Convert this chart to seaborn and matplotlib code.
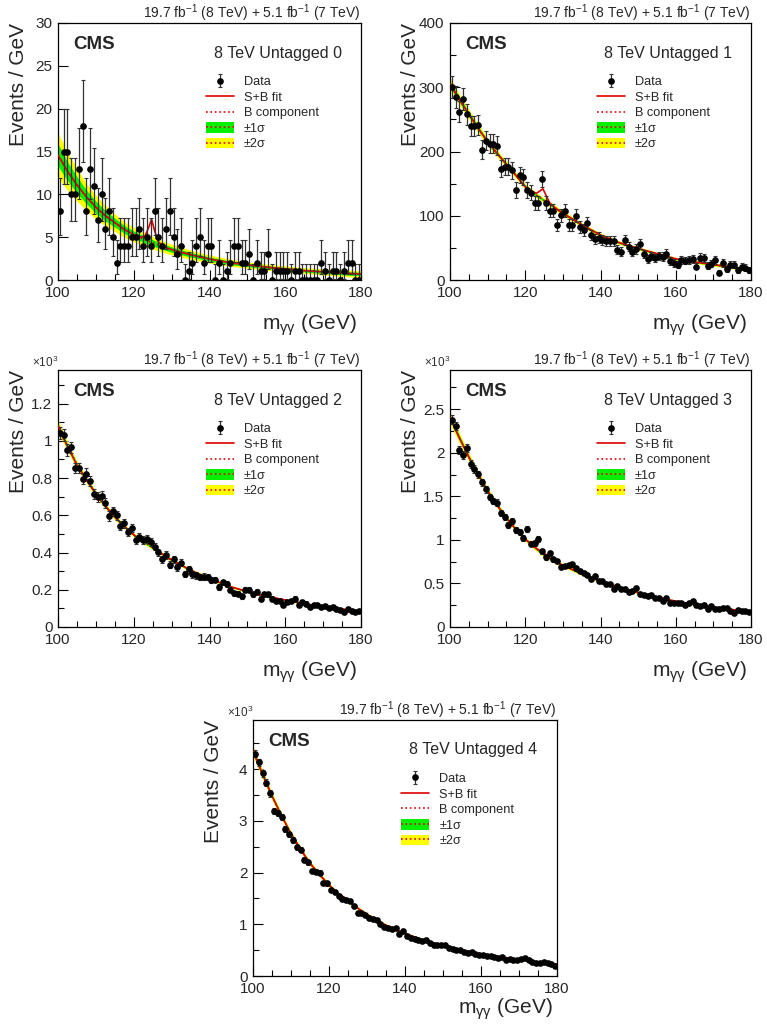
import numpy as np
import matplotlib
matplotlib.use('Agg')
import matplotlib.pyplot as plt
import seaborn as sns
from matplotlib.patches import Patch
from matplotlib.lines import Line2D
from matplotlib.ticker import MultipleLocator, FuncFormatter

sns.set_theme(style='ticks')
plt.rcParams['font.family'] = ['Liberation Sans', 'DejaVu Sans']
plt.rcParams['mathtext.fontset'] = 'custom'
plt.rcParams['mathtext.rm'] = 'Liberation Sans'
plt.rcParams['mathtext.it'] = 'Liberation Sans:italic'

# bin centres, 1 GeV bins
mass_bins = np.arange(100.5, 180.0, 1.0)

# data (events / GeV)
untagged0 = [8, 15, 15, 10, 10, 13, 18, 8, 13, 11,
             7, 10, 6, 8, 5, 2, 4, 4, 4, 5,
             5, 6, 4, 5, 4, 8, 5, 4, 6, 8,
             5, 3, 4, 0, 1, 2, 4, 5, 2, 4,
             4, 0, 2, 0, 1, 2, 4, 4, 2, 2,
             3, 0, 2, 1, 1, 3, 0, 1, 1, 1,
             1, 0, 1, 1, 0, 0, 0, 0, 0, 2,
             1, 0, 1, 1, 0, 1, 2, 2, 0, 0]
untagged1 = [300, 285, 262, 282, 258, 239, 239, 241, 203, 217,
             212, 212, 209, 173, 176, 176, 171, 140, 163, 160,
             140, 136, 120, 120, 157, 120, 108, 108, 86, 101,
             108, 86, 86, 100, 83, 78, 88, 70, 64, 66,
             62, 61, 60, 60, 47, 44, 62, 52, 44, 48,
             56, 40, 32, 37, 34, 37, 36, 41, 29, 26,
             23, 31, 30, 31, 32, 21, 35, 34, 22, 25,
             31, 11, 26, 17, 24, 24, 15, 21, 19, 15]
untagged2 = [1.042, 1.031, 0.951, 0.964, 0.854, 0.854, 0.796, 0.823, 0.783, 0.714,
             0.696, 0.705, 0.665, 0.596, 0.621, 0.601, 0.545, 0.557, 0.510, 0.532,
             0.466, 0.485, 0.466, 0.472, 0.455, 0.432, 0.401, 0.364, 0.386, 0.335,
             0.364, 0.321, 0.346, 0.286, 0.310, 0.282, 0.277, 0.266, 0.271, 0.266,
             0.251, 0.255, 0.215, 0.239, 0.231, 0.200, 0.182, 0.179, 0.164, 0.200,
             0.200, 0.175, 0.189, 0.153, 0.177, 0.177, 0.153, 0.138, 0.140, 0.117,
             0.135, 0.138, 0.153, 0.118, 0.135, 0.126, 0.107, 0.118, 0.118, 0.107,
             0.113, 0.104, 0.107, 0.098, 0.091, 0.080, 0.095, 0.086, 0.082, 0.086]
untagged3 = [2.379, 2.305, 2.035, 1.977, 2.050, 1.871, 1.813, 1.754, 1.660, 1.582,
             1.492, 1.445, 1.426, 1.305, 1.258, 1.168, 1.215, 1.109, 1.094, 1.023,
             1.121, 0.957, 0.965, 1.008, 0.867, 0.800, 0.848, 0.777, 0.758, 0.691,
             0.700, 0.711, 0.719, 0.672, 0.645, 0.621, 0.594, 0.547, 0.582, 0.523,
             0.523, 0.492, 0.488, 0.434, 0.465, 0.438, 0.434, 0.398, 0.410, 0.445,
             0.379, 0.371, 0.359, 0.367, 0.336, 0.336, 0.301, 0.328, 0.281, 0.281,
             0.281, 0.270, 0.254, 0.270, 0.297, 0.254, 0.242, 0.254, 0.203, 0.242,
             0.211, 0.211, 0.223, 0.223, 0.184, 0.164, 0.195, 0.184, 0.180, 0.176]
untagged4 = [4.30, 4.13, 3.92, 3.74, 3.53, 3.19, 3.15, 3.08, 2.84, 2.74,
             2.63, 2.49, 2.44, 2.25, 2.20, 2.03, 2.02, 2.00, 1.80, 1.79,
             1.66, 1.63, 1.55, 1.48, 1.46, 1.45, 1.35, 1.22, 1.21, 1.17,
             1.12, 1.11, 1.09, 1.00, 0.94, 0.92, 0.90, 0.92, 0.82, 0.87,
             0.77, 0.74, 0.72, 0.69, 0.68, 0.70, 0.64, 0.59, 0.60, 0.59,
             0.59, 0.54, 0.52, 0.51, 0.50, 0.47, 0.45, 0.46, 0.43, 0.41,
             0.41, 0.39, 0.38, 0.37, 0.35, 0.36, 0.30, 0.33, 0.31, 0.31,
             0.33, 0.35, 0.30, 0.28, 0.26, 0.26, 0.28, 0.26, 0.24, 0.20]

# fit curves read at these masses
fit_mass = [100, 102.5, 105, 107.5, 110, 112.5, 115, 117.5, 120, 122, 123, 124, 124.7,
            125.5, 126.5, 128, 130, 135, 140, 145, 150, 155, 160, 165, 170, 175, 180]

bkg0 = [14.6, 12.7, 11.1, 9.7, 8.5, 7.5, 6.7, 5.9, 5.3, 4.9, 4.7, 4.5, 4.4,
        4.25, 4.1, 3.85, 3.55, 2.95, 2.45, 2.05, 1.75, 1.5, 1.3, 1.1, 0.95, 0.8, 0.7]
sig0 = [0, 0, 0, 0, 0, 0, 0, 0, 0, 0.1, 0.45, 1.7, 2.7,
        1.5, 0.35, 0.03, 0, 0, 0, 0, 0, 0, 0, 0, 0, 0, 0]
err0 = [1.3, 1.1, 0.95, 0.8, 0.7, 0.6, 0.52, 0.46, 0.42, 0.4, 0.39, 0.38, 0.37,
        0.36, 0.35, 0.33, 0.31, 0.27, 0.24, 0.21, 0.19, 0.18, 0.17, 0.17, 0.18, 0.19, 0.21]

bkg1 = [305, 281, 258, 236, 215, 197, 180, 163, 145, 136, 132, 128, 125,
        122, 118, 112, 104, 86, 70, 58, 49, 41, 33, 28, 24, 20, 16]
sig1 = [0, 0, 0, 0, 0, 0, 0, 0, 0, 1, 3, 11, 17,
        10, 2, 0, 0, 0, 0, 0, 0, 0, 0, 0, 0, 0, 0]
err1 = [5, 4.3, 3.8, 3.4, 3.0, 2.7, 2.5, 2.3, 2.2, 2.1, 2.1, 2.0, 2.0,
        2.0, 2.0, 1.9, 1.9, 1.7, 1.5, 1.4, 1.3, 1.2, 1.2, 1.2, 1.2, 1.3, 1.5]

bkg2 = [1.08, 0.97, 0.87, 0.79, 0.715, 0.65, 0.59, 0.54, 0.495, 0.465, 0.452, 0.44, 0.43,
        0.42, 0.405, 0.385, 0.36, 0.305, 0.26, 0.22, 0.19, 0.165, 0.145, 0.125, 0.11, 0.097, 0.085]
sig2 = [0, 0, 0, 0, 0, 0, 0, 0, 0, 0.001, 0.003, 0.009, 0.013,
        0.008, 0.002, 0, 0, 0, 0, 0, 0, 0, 0, 0, 0, 0, 0]
err2 = [0.016, 0.013, 0.011, 0.0095, 0.0085, 0.0075, 0.007, 0.0065, 0.006, 0.0058, 0.0057, 0.0056, 0.0055,
        0.0054, 0.0053, 0.0051, 0.0049, 0.0044, 0.004, 0.0036, 0.0033, 0.003, 0.0028, 0.0026, 0.0025, 0.0025, 0.0026]

bkg3 = [2.4, 2.17, 1.95, 1.75, 1.56, 1.4, 1.25, 1.12, 1.01, 0.93, 0.895, 0.86, 0.84,
        0.815, 0.79, 0.75, 0.71, 0.61, 0.525, 0.455, 0.395, 0.345, 0.295, 0.26, 0.23, 0.2, 0.175]
sig3 = [0, 0, 0, 0, 0, 0, 0, 0, 0, 0.002, 0.006, 0.016, 0.024,
        0.015, 0.004, 0, 0, 0, 0, 0, 0, 0, 0, 0, 0, 0, 0]
err3 = [0.035, 0.029, 0.024, 0.021, 0.019, 0.017, 0.015, 0.014, 0.013, 0.0125, 0.0123, 0.012, 0.012,
        0.0118, 0.0115, 0.011, 0.0105, 0.0095, 0.0087, 0.008, 0.0072, 0.0066, 0.006, 0.0056, 0.0054, 0.0054, 0.0056]

bkg4 = [4.35, 3.9, 3.48, 3.1, 2.75, 2.45, 2.18, 1.96, 1.76, 1.62, 1.56, 1.5, 1.46,
        1.42, 1.37, 1.29, 1.19, 0.98, 0.82, 0.69, 0.59, 0.5, 0.43, 0.37, 0.32, 0.27, 0.23]
sig4 = [0, 0, 0, 0, 0, 0, 0, 0, 0, 0.003, 0.008, 0.022, 0.032,
        0.02, 0.005, 0, 0, 0, 0, 0, 0, 0, 0, 0, 0, 0, 0]
err4 = [0.05, 0.042, 0.035, 0.03, 0.027, 0.024, 0.022, 0.02, 0.019, 0.018, 0.018, 0.018, 0.017,
        0.017, 0.017, 0.016, 0.015, 0.014, 0.012, 0.011, 0.01, 0.009, 0.009, 0.008, 0.008, 0.008, 0.008]

categories = ['8 TeV Untagged 0', '8 TeV Untagged 1', '8 TeV Untagged 2',
              '8 TeV Untagged 3', '8 TeV Untagged 4']
lumi_text = r'19.7 fb$^{-1}$ (8 TeV) + 5.1 fb$^{-1}$ (7 TeV)'

RED = '#e00000'
GREEN = '#00f000'
YELLOW = '#ffff00'

W, H = 767, 1030
fig = plt.figure(figsize=(W / 100, H / 100), dpi=100)


def make_axes(left, right, top, bottom):
    return fig.add_axes([left / W, 1 - bottom / H, (right - left) / W, (bottom - top) / H])


def draw_panel(ax, data, scale, bkg, sig, err, ylim, major, minor, label,
               x1000=False, xlab_y=-0.175):
    y = np.array(data, dtype=float)
    n = y * scale
    lo = np.where(n > 0, np.sqrt(np.clip(n - 0.25, 0, None)), 0) / scale
    hi = (np.sqrt(n + 0.75) + (n < 50) * 1.0) / scale
    b = np.array(bkg)
    e = np.array(err)

    ax.fill_between(fit_mass, b - 2 * e, b + 2 * e, color=YELLOW, lw=0, zorder=1)
    ax.fill_between(fit_mass, b - e, b + e, color=GREEN, lw=0, zorder=2)
    sns.lineplot(x=fit_mass, y=b, ax=ax, color=RED, lw=1.2, ls=':', zorder=3)
    sns.lineplot(x=fit_mass, y=b + np.array(sig), ax=ax, color=RED, lw=1.2, zorder=4)
    cont = ax.errorbar(mass_bins, y, yerr=[lo, hi], fmt='o', color='black', ms=3.8,
                       ecolor='#333333', elinewidth=0.9, capsize=1.5, capthick=0.8,
                       zorder=5)

    ax.set_xlim(100, 180)
    ax.set_ylim(0, ylim)
    ax.xaxis.set_major_locator(MultipleLocator(20))
    ax.xaxis.set_minor_locator(MultipleLocator(5))
    ax.yaxis.set_major_locator(MultipleLocator(major))
    if minor:
        ax.yaxis.set_minor_locator(MultipleLocator(minor))
    ax.tick_params(which='both', direction='in', top=False, right=False, labelsize=11,
                   color='black', width=0.8)
    ax.tick_params(which='major', length=7, pad=4)
    ax.tick_params(which='minor', length=4)
    if x1000:
        ax.yaxis.set_major_formatter(FuncFormatter(lambda v, p: f'{v:g}'))
        ax.text(0.0, 1.0, r'$\times$10$^{3}$', transform=ax.transAxes, ha='right',
                va='bottom', fontsize=8.5, color='#333333')
    for s in ax.spines.values():
        s.set_color('black')
        s.set_linewidth(0.9)
    ax.set_xlabel('')
    ax.set_ylabel('')

    ax.text(1.0, 1.04, lumi_text, transform=ax.transAxes, ha='right', va='center', fontsize=10)
    ax.text(0.05, 0.915, 'CMS', transform=ax.transAxes, ha='left', va='center',
            fontsize=13.5, fontweight='bold')
    ax.text(0.725, 0.883, label, transform=ax.transAxes, ha='center', va='center', fontsize=11.5)
    ax.text(-0.13, 1.0, 'Events / GeV', transform=ax.transAxes, rotation=90,
            ha='center', va='top', fontsize=15)
    ax.text(0.985, xlab_y, r'm$_{\mathregular{\gamma\gamma}}$ (GeV)', transform=ax.transAxes,
            ha='right', va='center', fontsize=15)

    handles = [cont,
               Line2D([], [], color=RED, lw=1.2),
               Line2D([], [], color=RED, lw=1.2, ls=':'),
               (Patch(facecolor=GREEN, lw=0), Line2D([], [], color=RED, lw=1.2, ls=':')),
               (Patch(facecolor=YELLOW, lw=0), Line2D([], [], color=RED, lw=1.2, ls=':'))]
    labels = ['Data', 'S+B fit', 'B component', '\u00b11\u03c3', '\u00b12\u03c3']
    ax.legend(handles, labels, loc='upper left', bbox_to_anchor=(0.47, 0.815), frameon=False,
              fontsize=9.2, handlelength=2.2, handleheight=0.9, handletextpad=0.8,
              labelspacing=0.22, borderaxespad=0)


ax0 = make_axes(58, 361, 23, 280)
ax1 = make_axes(450, 751, 23, 280)
ax2 = make_axes(58, 361, 370, 627)
ax3 = make_axes(450, 751, 370, 627)
ax4 = make_axes(253, 557, 720, 976)

draw_panel(ax0, untagged0, 1, bkg0, sig0, err0, 30, 5, None, categories[0])
draw_panel(ax1, untagged1, 1, bkg1, sig1, err1, 400, 100, 50, categories[1])
draw_panel(ax2, untagged2, 1000, bkg2, sig2, err2, 1.38, 0.2, 0.1, categories[2], x1000=True)
draw_panel(ax3, untagged3, 1000, bkg3, sig3, err3, 2.95, 0.5, 0.25, categories[3], x1000=True)
draw_panel(ax4, untagged4, 1000, bkg4, sig4, err4, 4.95, 1, 0.5, categories[4], x1000=True,
           xlab_y=-0.13)

fig.savefig('out.png', dpi=100, facecolor='white')
